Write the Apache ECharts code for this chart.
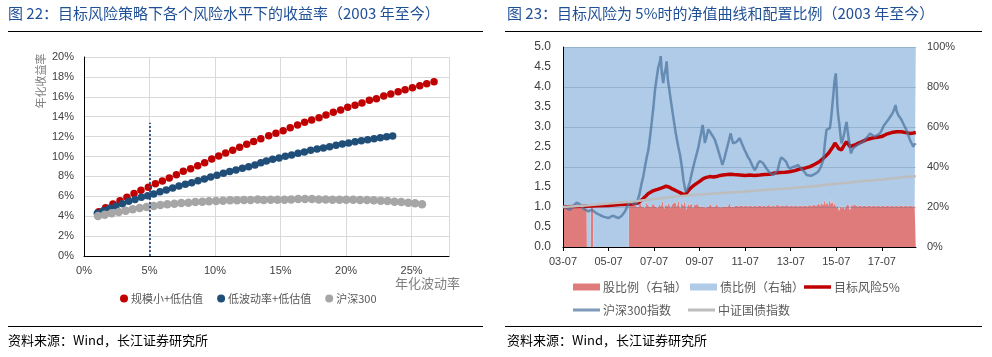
<!DOCTYPE html>
<html><head><meta charset="utf-8">
<script src="https://cdn.jsdelivr.net/npm/echarts@6/dist/echarts.min.js"></script>
<style>html,body{margin:0;padding:0;background:#fff}#c{width:992px;height:357px}</style>
</head><body><div id="c"></div>
<script>
// ---------- Left chart data: [annualised volatility %, annualised return %] ----------
const smallValue = [[1.12,4.45],[1.65,4.86],[2.21,5.23],[2.75,5.56],[3.28,5.9],[3.82,6.27],[4.35,6.6],[4.91,6.9],[5.45,7.27],[5.98,7.54],[6.51,7.84],[7.05,8.17],[7.58,8.51],[8.14,8.78],[8.68,9.08],[9.21,9.38],[9.75,9.75],[10.28,10.05],[10.81,10.35],[11.35,10.62],[11.88,10.92],[12.42,11.22],[12.95,11.52],[13.5,11.79],[14.1,12.09],[14.65,12.33],[15.2,12.6],[15.74,12.9],[16.3,13.17],[16.84,13.44],[17.38,13.67],[17.94,13.9],[18.47,14.17],[19.03,14.44],[19.59,14.67],[20.13,14.94],[20.69,15.14],[21.22,15.38],[21.78,15.65],[22.32,15.81],[22.88,16.08],[23.42,16.28],[23.98,16.52],[24.51,16.72],[25.07,16.92],[25.63,17.12],[26.16,17.32],[26.72,17.52]];
const lowVolValue = [[1.02,4.29],[1.48,4.56],[1.96,4.79],[2.44,5.03],[2.93,5.26],[3.41,5.49],[3.89,5.69],[4.38,5.9],[4.86,6.06],[5.32,6.23],[5.8,6.46],[6.28,6.63],[6.77,6.83],[7.25,7.03],[7.74,7.2],[8.22,7.37],[8.7,7.57],[9.19,7.74],[9.67,7.94],[10.15,8.11],[10.64,8.31],[11.12,8.48],[11.6,8.64],[12.09,8.81],[12.57,8.98],[13.05,9.15],[13.5,9.38],[13.92,9.55],[14.4,9.72],[14.89,9.85],[15.37,10.02],[15.85,10.15],[16.34,10.32],[16.82,10.45],[17.3,10.62],[17.79,10.75],[18.27,10.85],[18.75,10.99],[19.24,11.12],[19.72,11.26],[20.2,11.36],[20.69,11.49],[21.17,11.59],[21.65,11.69],[22.14,11.79],[22.62,11.89],[23.1,11.99],[23.56,12.06]];
const hs300Dots = [[1.07,4.02],[1.58,4.15],[2.11,4.29],[2.65,4.42],[3.18,4.56],[3.72,4.69],[4.25,4.82],[4.78,4.92],[5.32,5.03],[5.83,5.13],[6.36,5.19],[6.9,5.26],[7.43,5.33],[7.97,5.36],[8.5,5.43],[9.03,5.46],[9.54,5.5],[10.08,5.53],[10.61,5.56],[11.15,5.6],[11.68,5.6],[12.21,5.63],[12.72,5.63],[13.26,5.67],[13.72,5.63],[14.25,5.66],[14.77,5.66],[15.3,5.66],[15.82,5.69],[16.35,5.73],[16.87,5.73],[17.4,5.73],[17.92,5.69],[18.45,5.69],[18.97,5.66],[19.5,5.66],[20.02,5.66],[20.55,5.66],[21.07,5.63],[21.6,5.63],[22.12,5.6],[22.65,5.56],[23.17,5.53],[23.7,5.46],[24.22,5.43],[24.75,5.36],[25.27,5.29],[25.8,5.19]];
const refVol = 5, refTop = 13.4;
const leftXTicks = {min:0, max:27.86, interval:5};
const leftYTicks = {min:0, max:20, interval:2};

// ---------- Right chart data: [decimal year, value] ----------
const stockRatio = [[2003.50,20],[2003.80,20.3],[2004.10,19.8],[2004.40,20.2],[2004.54,20],[2004.55,0],[2004.71,0],[2004.72,20],[2004.82,20],[2004.83,0],[2006.38,0],[2006.39,20],
[2006.45,21.2],[2006.52,20.3],[2006.60,22],[2006.67,20.5],[2006.74,21.5],[2006.82,20],[2006.88,22.8],[2006.95,20.4],[2007.02,21.3],[2007.10,19.6],[2007.17,22.4],[2007.24,20.5],[2007.31,21.2],[2007.38,20],[2007.45,22],[2007.52,20.6],[2007.59,21.4],[2007.66,19.4],[2007.73,21.6],[2007.80,20.3],[2007.87,23.2],[2007.94,19],[2008.01,21.5],[2008.08,20.2],[2008.15,22.3],[2008.22,19.5],[2008.29,21.2],[2008.36,20.4],[2008.43,22.6],[2008.50,20],[2008.57,23.4],[2008.64,19.2],[2008.71,22.2],[2008.78,20.5],[2008.85,23],[2008.92,18.6],[2008.99,21.8],[2009.06,20.2],[2009.13,22.4],[2009.20,19.4],[2009.27,21],[2009.34,20.4],[2009.41,21.5],[2009.48,20.1],[2009.55,20.9],[2009.62,20.2],[2009.69,21.2],[2009.76,19.8],[2009.83,20.8],[2009.90,20.3],[2009.97,21.6],[2010.04,20.1],[2010.11,20.7],[2010.18,20.2],[2010.25,21.5],[2010.32,20],[2010.39,20.6],[2010.46,19.9],[2010.53,20.8],[2010.60,20.2],[2010.67,21],[2010.74,20.3],[2010.81,22],[2010.88,19.9],[2010.95,20.6],[2011.02,20.2],[2011.12,20.7],[2011.22,20.3],[2011.32,20.9],[2011.42,20.2],[2011.52,20.6],[2011.62,20.3],[2011.72,20.8],[2011.82,20.2],[2011.92,20.6],[2012.02,20.3],[2012.12,20.9],[2012.22,20.2],[2012.32,20.6],[2012.42,20.3],[2012.52,21],[2012.62,20.2],[2012.72,20.6],[2012.82,20.3],[2012.92,21.4],[2013.02,20.2],[2013.12,20.8],[2013.22,20.4],[2013.32,21],[2013.42,20.2],[2013.52,20.7],[2013.62,20.3],[2013.72,20.9],[2013.82,20.2],[2013.92,20.8],[2014.02,20.3],[2014.12,20.9],[2014.22,20.2],[2014.32,21],[2014.42,20.4],[2014.52,21.2],[2014.62,20.5],[2014.72,21.8],[2014.80,20.6],[2014.86,22.5],[2014.92,20.8],[2014.98,23.5],[2015.04,21],[2015.10,22.8],[2015.16,20.6],[2015.22,24.8],[2015.26,21.2],[2015.32,23.2],[2015.38,20.4],[2015.44,22.4],[2015.50,19.6],[2015.56,21],[2015.62,18],[2015.68,20.4],[2015.74,19.2],[2015.80,20.8],[2015.86,18.6],[2015.92,20.6],[2015.98,19.6],[2016.04,21.2],[2016.10,18.4],[2016.16,20.8],[2016.24,20.2],[2016.34,21],[2016.44,20.3],[2016.54,20.8],[2016.64,20.2],[2016.74,20.7],[2016.84,20.3],[2016.94,20.9],[2017.04,20.2],[2017.14,20.6],[2017.24,20.3],[2017.34,20.8],[2017.44,20.2],[2017.54,20.6],[2017.64,20.2],[2017.74,20.7],[2017.84,20.3],[2017.94,20.8],[2018.04,20.2],[2018.14,20.6],[2018.24,20.3],[2018.34,20.8],[2018.44,20.2],[2018.54,20.6],[2018.64,20.3],[2018.74,20.8],[2018.84,20.2],[2018.94,20.6],[2018.99,20.3]];
const targetRisk5 = [[2003.5,1.0],[2004.0,1.01],[2004.5,1.02],[2005.0,1.03],[2005.5,1.04],[2006.0,1.06],[2006.4,1.07],[2006.6,1.08],[2006.8,1.1],[2007.0,1.2],[2007.15,1.28],[2007.25,1.34],[2007.4,1.39],[2007.54,1.42],[2007.65,1.44],[2007.75,1.46],[2007.9,1.49],[2008.02,1.52],[2008.15,1.5],[2008.27,1.46],[2008.42,1.42],[2008.56,1.38],[2008.7,1.34],[2008.86,1.3],[2008.95,1.37],[2009.08,1.46],[2009.2,1.52],[2009.37,1.59],[2009.5,1.64],[2009.66,1.71],[2009.8,1.74],[2009.95,1.76],[2010.1,1.75],[2010.24,1.76],[2010.4,1.79],[2010.53,1.8],[2010.7,1.81],[2010.83,1.82],[2011.0,1.81],[2011.26,1.8],[2011.5,1.79],[2011.7,1.8],[2011.9,1.79],[2012.14,1.8],[2012.35,1.81],[2012.58,1.82],[2012.8,1.85],[2013.02,1.86],[2013.25,1.87],[2013.45,1.88],[2013.68,1.91],[2013.9,1.95],[2014.12,1.97],[2014.35,2.01],[2014.56,2.07],[2014.75,2.13],[2014.93,2.22],[2015.05,2.28],[2015.15,2.34],[2015.27,2.44],[2015.37,2.52],[2015.44,2.6],[2015.48,2.63],[2015.54,2.52],[2015.6,2.46],[2015.66,2.42],[2015.73,2.43],[2015.85,2.55],[2015.95,2.63],[2016.03,2.57],[2016.1,2.51],[2016.2,2.53],[2016.32,2.55],[2016.45,2.59],[2016.61,2.63],[2016.8,2.68],[2017.05,2.72],[2017.25,2.74],[2017.49,2.76],[2017.7,2.82],[2017.93,2.86],[2018.15,2.88],[2018.36,2.88],[2018.55,2.86],[2018.73,2.84],[2018.88,2.85],[2018.99,2.86]];
const hs300Index = [[2003.50,1.01],[2003.65,0.97],[2003.81,0.93],[2003.95,1.02],[2004.10,1.11],[2004.24,1.07],[2004.39,0.96],[2004.50,0.93],[2004.61,0.89],[2004.76,0.93],[2004.88,0.88],[2004.98,0.84],[2005.12,0.80],[2005.27,0.76],[2005.40,0.74],[2005.49,0.72],[2005.60,0.76],[2005.71,0.78],[2005.82,0.75],[2005.93,0.72],[2006.08,0.78],[2006.22,0.89],[2006.33,1.02],[2006.44,1.13],[2006.58,1.08],[2006.73,1.09],[2006.85,1.3],[2006.95,1.59],[2007.02,1.75],[2007.10,2.01],[2007.18,2.25],[2007.25,2.43],[2007.32,2.75],[2007.39,3.09],[2007.47,3.5],[2007.54,3.93],[2007.62,4.25],[2007.68,4.48],[2007.75,4.62],[2007.79,4.77],[2007.84,4.35],[2007.90,4.10],[2007.94,4.3],[2007.98,4.39],[2008.02,4.5],[2008.05,4.64],[2008.10,4.2],[2008.17,3.93],[2008.25,3.6],[2008.34,3.26],[2008.45,2.85],[2008.56,2.51],[2008.64,2.3],[2008.72,2.0],[2008.79,1.67],[2008.86,1.45],[2008.90,1.38],[2009.0,1.5],[2009.08,1.65],[2009.15,1.84],[2009.22,2.0],[2009.30,2.18],[2009.38,2.35],[2009.45,2.51],[2009.55,2.8],[2009.63,3.05],[2009.68,2.85],[2009.73,2.6],[2009.80,2.75],[2009.88,2.94],[2009.95,2.88],[2010.02,2.84],[2010.10,2.75],[2010.17,2.68],[2010.24,2.55],[2010.31,2.43],[2010.40,2.25],[2010.50,2.05],[2010.58,2.2],[2010.68,2.43],[2010.78,2.65],[2010.86,2.84],[2010.92,2.7],[2010.97,2.59],[2011.05,2.62],[2011.12,2.63],[2011.20,2.68],[2011.26,2.72],[2011.33,2.62],[2011.41,2.51],[2011.48,2.42],[2011.55,2.34],[2011.62,2.25],[2011.70,2.18],[2011.80,2.05],[2011.92,1.92],[2012.00,2.0],[2012.06,2.09],[2012.14,2.15],[2012.21,2.13],[2012.28,2.1],[2012.35,2.05],[2012.45,1.95],[2012.54,1.88],[2012.63,1.84],[2012.72,1.8],[2012.82,1.85],[2012.93,1.92],[2013.00,2.1],[2013.08,2.24],[2013.18,2.2],[2013.30,2.13],[2013.38,2.02],[2013.45,1.96],[2013.52,1.98],[2013.59,2.0],[2013.68,2.01],[2013.81,2.05],[2013.90,2.0],[2013.97,1.97],[2014.10,1.88],[2014.20,1.8],[2014.27,1.76],[2014.38,1.78],[2014.48,1.8],[2014.60,1.84],[2014.70,1.88],[2014.82,2.0],[2014.93,2.18],[2015.0,2.6],[2015.07,2.93],[2015.15,2.95],[2015.22,2.97],[2015.27,3.2],[2015.32,3.51],[2015.37,3.8],[2015.41,4.09],[2015.45,4.25],[2015.48,4.34],[2015.52,3.9],[2015.55,3.51],[2015.59,3.25],[2015.63,3.09],[2015.68,2.8],[2015.73,2.59],[2015.79,2.7],[2015.85,2.84],[2015.90,3.0],[2015.95,3.13],[2016.0,2.9],[2016.05,2.68],[2016.10,2.5],[2016.14,2.34],[2016.22,2.45],[2016.32,2.51],[2016.43,2.55],[2016.54,2.59],[2016.65,2.62],[2016.76,2.68],[2016.88,2.76],[2016.98,2.84],[2017.08,2.8],[2017.20,2.76],[2017.30,2.8],[2017.42,2.84],[2017.50,2.92],[2017.56,3.01],[2017.67,3.1],[2017.78,3.18],[2017.90,3.28],[2018.0,3.38],[2018.05,3.45],[2018.10,3.55],[2018.15,3.4],[2018.22,3.3],[2018.30,3.25],[2018.36,3.18],[2018.47,3.05],[2018.58,2.93],[2018.66,2.8],[2018.73,2.68],[2018.80,2.6],[2018.88,2.51],[2018.94,2.58],[2018.99,2.55]];
const bondIndex = [[2003.5,1.0],[2004.5,1.04],[2005.5,1.09],[2006.5,1.13],[2007.5,1.2],[2008.5,1.26],[2009.5,1.31],[2010.5,1.35],[2011.5,1.39],[2012.5,1.43],[2013.5,1.47],[2014.5,1.52],[2015.5,1.58],[2016.5,1.64],[2017.5,1.69],[2018.5,1.75],[2018.99,1.77]];
const rightXTicks = {min:2003.5, max:2019.0, interval:2};
const rightYTicks = {min:0, max:5, interval:0.5};
const rightY2Ticks = {min:0, max:100, interval:20};

const FONT = "'Liberation Sans','Noto Sans CJK SC',sans-serif";
const CJK = "'Noto Sans CJK SC','Liberation Sans',sans-serif";
const TITLE_COLOR = '#1F5096';
const HS_COLOR = 'rgba(75,115,160,0.72)';

function oneLegend(name, left, top, h) {
  return {data:[{name:name, icon:'rect'}], left:left, top:top, itemWidth:27, itemHeight:h, selectedMode:false,
          padding:0, textStyle:{color:'#595959', fontSize:12, fontFamily:CJK, padding:[0,0,0,-2]}};
}

const chart = echarts.init(document.getElementById('c'), null, {renderer:'canvas'});
const option = {
  animation: false,
  textStyle: {fontFamily: FONT},
  grid: [
    {left:84, top:57, width:365, height:199},
    {left:563, top:47, width:353, height:200}
  ],
  xAxis: [
    {type:'value', gridIndex:0, min:leftXTicks.min, max:leftXTicks.max, interval:leftXTicks.interval,
     axisLine:{lineStyle:{color:'#000', width:1}}, axisTick:{show:false},
     axisLabel:{formatter:'{value}%', color:'#404040', fontSize:11, margin:9, showMaxLabel:false},
     splitLine:{show:true, lineStyle:{color:'#D9D9D9'}}},
    {type:'value', gridIndex:1, min:rightXTicks.min, max:rightXTicks.max, interval:rightXTicks.interval, z:4,
     axisLine:{lineStyle:{color:'#000', width:1}}, axisTick:{show:true, length:4, lineStyle:{color:'#000'}},
     axisLabel:{formatter: v => { const y = Math.round(v - 0.5) % 100; return (y < 10 ? '0' : '') + y + '-07'; },
                color:'#404040', fontSize:11, margin:9, showMaxLabel:false},
     splitLine:{show:false}}
  ],
  yAxis: [
    {type:'value', gridIndex:0, min:leftYTicks.min, max:leftYTicks.max, interval:leftYTicks.interval,
     axisLine:{show:true, lineStyle:{color:'#000'}}, axisTick:{show:false},
     axisLabel:{formatter:'{value}%', color:'#404040', fontSize:11, margin:10},
     splitLine:{lineStyle:{color:'#D9D9D9'}}},
    {type:'value', gridIndex:1, min:rightYTicks.min, max:rightYTicks.max, interval:rightYTicks.interval, z:4,
     axisLine:{show:true, lineStyle:{color:'#000'}}, axisTick:{show:false},
     axisLabel:{formatter: v => v.toFixed(1), color:'#404040', fontSize:12, margin:12},
     splitLine:{show:false}},
    {type:'value', gridIndex:1, position:'right', min:rightY2Ticks.min, max:rightY2Ticks.max, interval:rightY2Ticks.interval, z:2,
     axisLine:{show:false}, axisTick:{show:false},
     axisLabel:{formatter:'{value}%', color:'#404040', fontSize:11, margin:11},
     splitLine:{show:true, lineStyle:{color:'rgba(80,110,145,0.28)', width:1}}}
  ],
  legend: [
    {data:['规模小+低估值','低波动率+低估值','沪深300'], left:115, top:288, icon:'circle',
     itemWidth:8, itemHeight:8, itemGap:14, selectedMode:false,
     textStyle:{color:'#595959', fontSize:11, fontFamily:CJK, padding:[0,0,0,-2]}},
    oneLegend('股比例（右轴）', 573, 281, 7),
    oneLegend('债比例（右轴）', 690, 281, 7),
    oneLegend('目标风险5%', 804, 281, 3.5),
    oneLegend('沪深300指数', 573, 304, 3),
    oneLegend('中证国债指数', 688, 304, 3)
  ],
  series: [
    {type:'scatter', name:'规模小+低估值', xAxisIndex:0, yAxisIndex:0, data:smallValue, symbolSize:7.5,
     itemStyle:{color:'#C00000', opacity:1}},
    {type:'scatter', name:'低波动率+低估值', xAxisIndex:0, yAxisIndex:0, data:lowVolValue, symbolSize:7.5,
     itemStyle:{color:'#1F4E79', opacity:1},
     markLine:{silent:true, symbol:'none', label:{show:false}, animation:false,
       lineStyle:{color:'#1F4E79', type:[2,2], width:1.8},
       data:[[{coord:[refVol, leftYTicks.min]},{coord:[refVol, refTop]}]]}},
    {type:'scatter', name:'沪深300', xAxisIndex:0, yAxisIndex:0, data:hs300Dots, symbolSize:8.5,
     itemStyle:{color:'#A6A6A6', opacity:1}},

    {type:'line', name:'股比例（右轴）', xAxisIndex:1, yAxisIndex:2, data:stockRatio, symbol:'none', z:1,
     color:'#E07B7B', lineStyle:{width:0}, areaStyle:{color:'#E07B7B', opacity:1, origin:'start'}},
    {type:'line', name:'债比例（右轴）', xAxisIndex:1, yAxisIndex:2, data:stockRatio, symbol:'none', z:1,
     color:'#AFCBE8', lineStyle:{width:0}, areaStyle:{color:'#AFCBE8', opacity:1, origin:'end'}},
    {type:'line', name:'目标风险5%', xAxisIndex:1, yAxisIndex:1, data:targetRisk5, symbol:'none', z:5,
     color:'#C00000', lineStyle:{width:3.5, color:'#C00000'}},
    {type:'line', name:'沪深300指数', xAxisIndex:1, yAxisIndex:1, data:hs300Index, symbol:'none', z:6,
     color:HS_COLOR, lineStyle:{width:2.5, color:HS_COLOR}},
    {type:'line', name:'中证国债指数', xAxisIndex:1, yAxisIndex:1, data:bondIndex, symbol:'none', z:7,
     color:'#BDBDBD', lineStyle:{width:2.5, color:'#BDBDBD'}}
  ],
  graphic: [
    {type:'text', left:8, top:6, style:{text:'图 22：目标风险策略下各个风险水平下的收益率（2003 年至今）', fill:TITLE_COLOR, font:"15px "+CJK}},
    {type:'line', shape:{x1:8, y1:31.5, x2:483, y2:31.5}, style:{stroke:'#000', lineWidth:1}},
    {type:'text', left:507, top:6, style:{text:'图 23：目标风险为 5%时的净值曲线和配置比例（2003 年至今）', fill:TITLE_COLOR, font:"15px "+CJK}},
    {type:'line', shape:{x1:505, y1:31.5, x2:982, y2:31.5}, style:{stroke:'#000', lineWidth:1}},
    {type:'text', x:40.5, y:81, rotation:Math.PI/2, style:{text:'年化收益率', fill:'#7F7F7F', font:"11px "+CJK, align:'center', verticalAlign:'middle'}},
    {type:'text', left:395, top:277, style:{text:'年化波动率', fill:'#7F7F7F', font:"13px "+CJK}},
    {type:'line', shape:{x1:8, y1:326.5, x2:483, y2:326.5}, style:{stroke:'#000', lineWidth:1}},
    {type:'line', shape:{x1:505, y1:326.5, x2:982, y2:326.5}, style:{stroke:'#000', lineWidth:1}},
    {type:'text', left:8, top:334, style:{text:'资料来源：Wind，长江证券研究所', fill:'#000', font:"13px "+CJK}},
    {type:'text', left:507, top:334, style:{text:'资料来源：Wind，长江证券研究所', fill:'#000', font:"13px "+CJK}}
  ]
};
chart.setOption(option);
</script>
</body></html>
